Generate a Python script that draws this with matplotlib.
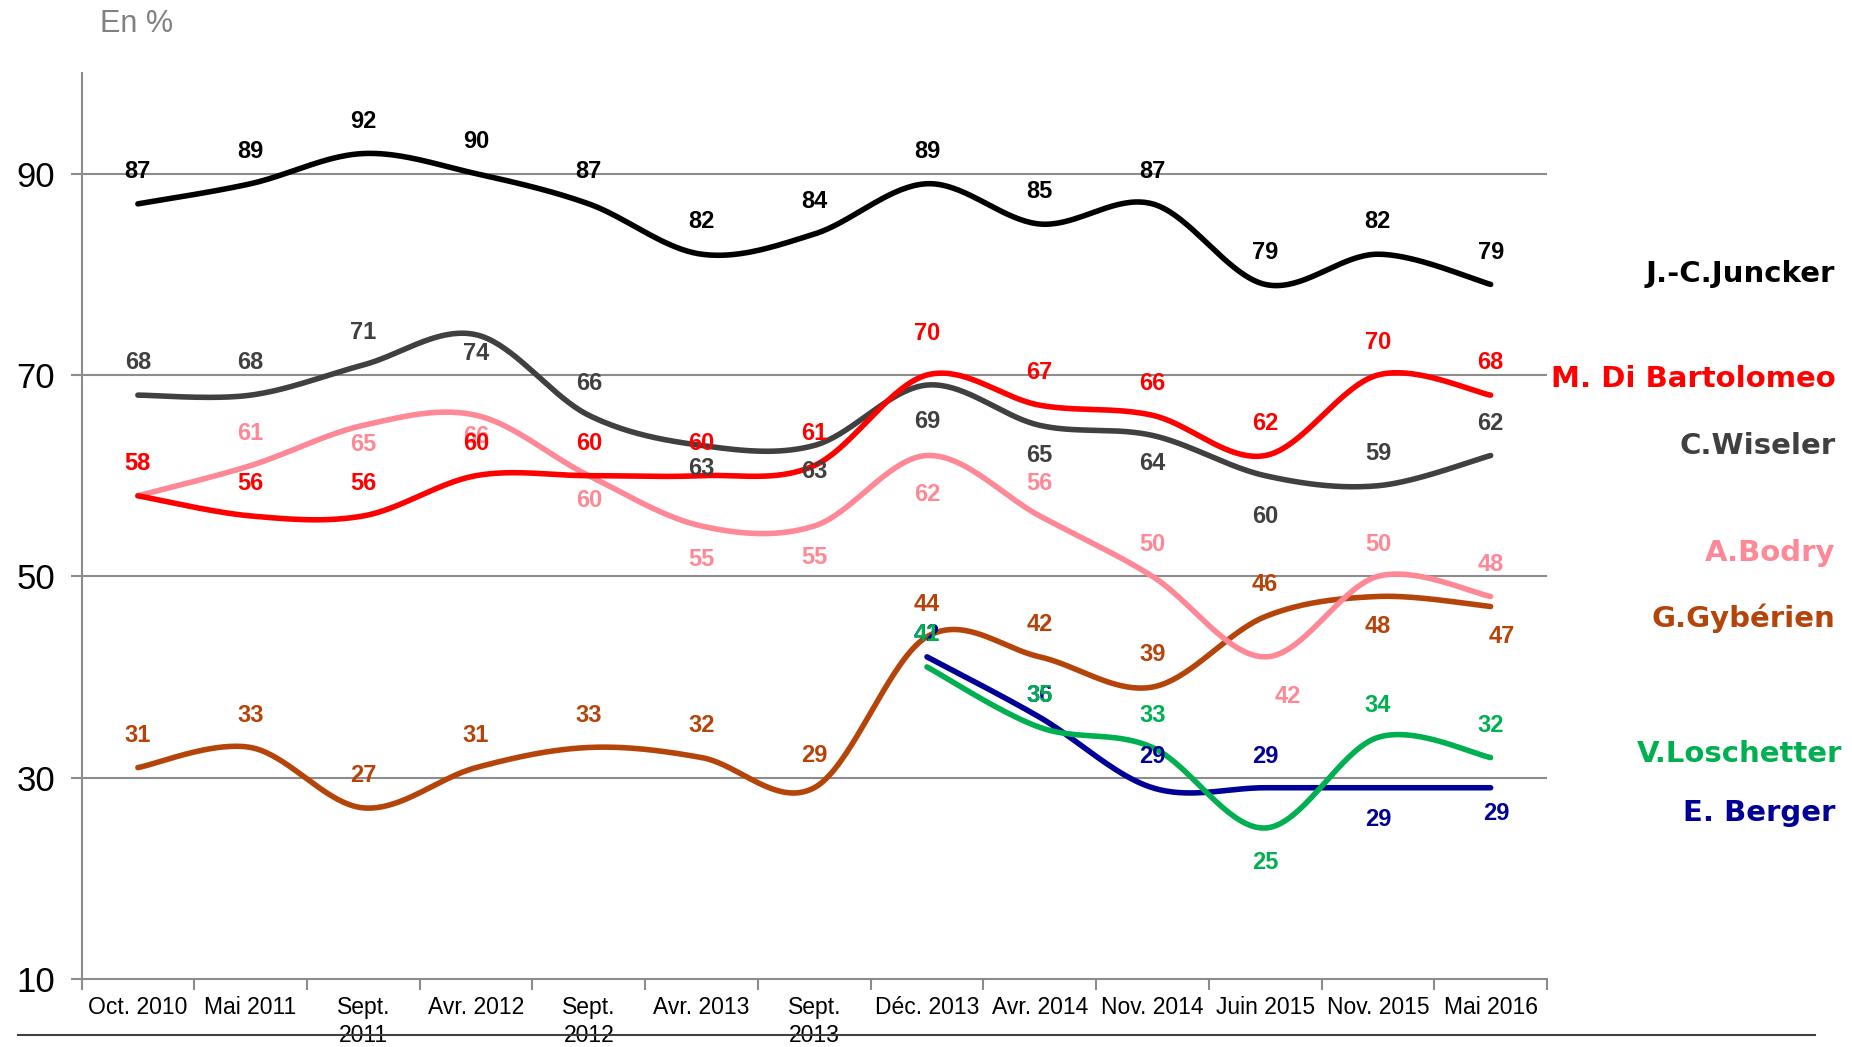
import numpy as np
import matplotlib
matplotlib.use("Agg")
import matplotlib.pyplot as plt
from matplotlib import transforms
from matplotlib.lines import Line2D

categories = ["Oct. 2010", "Mai 2011", "Sept.\n2011", "Avr. 2012", "Sept.\n2012",
              "Avr. 2013", "Sept.\n2013", "Déc. 2013", "Avr. 2014", "Nov. 2014",
              "Juin 2015", "Nov. 2015", "Mai 2016"]

juncker = [87, 89, 92, 90, 87, 82, 84, 89, 85, 87, 79, 82, 79]
di_bartolomeo = [58, 56, 56, 60, 60, 60, 61, 70, 67, 66, 62, 70, 68]
wiseler = [68, 68, 71, 74, 66, 63, 63, 69, 65, 64, 60, 59, 62]
bodry = [58, 61, 65, 66, 60, 55, 55, 62, 56, 50, 42, 50, 48]
gyberien = [31, 33, 27, 31, 33, 32, 29, 44, 42, 39, 46, 48, 47]
loschetter = [None] * 7 + [41, 35, 33, 25, 34, 32]
berger = [None] * 7 + [42, 36, 29, 29, 29, 29]

names = ["J.-C.Juncker", "M. Di Bartolomeo", "C.Wiseler", "A.Bodry",
         "G.Gybérien", "V.Loschetter", "E. Berger"]

# label offsets (data units) and small x shifts - layout only
off_juncker = [3.2] * 13
off_dibart = [3.2] * 7 + [4.1] + [3.2] * 5
off_wiseler = [3.2, 3.2, 3.2, -1.9, 3.2, -2.3, -2.6, -3.6, -3.0, -2.8, -4.1, 3.2, 3.2]
off_bodry = [3.2, 3.2, -1.9, -2.1, -2.5, -3.3, -3.1, -3.9, 3.2, 3.2, -3.9, 3.2, 3.2]
off_gyb = [3.2] * 11 + [-3.0, -3.0]
off_losch = [0] * 7 + [3.2, 3.2, 3.2, -3.4, 3.2, 3.2]
off_berger = [0] * 7 + [2.2, 2.2, 3.1, 3.1, -3.2, -2.6]
dx_bodry = {10: 0.2}
dx_gyb = {12: 0.1}
dx_berger = {12: 0.05}

name_y = [80.0, 69.6, 62.9, 52.3, 45.8, 32.4, 26.5]
name_x = [0.991, 0.991, 0.991, 0.991, 0.991, 0.9946, 0.991]

C_J = "#000000"
C_D = "#FF0000"
C_W = "#404040"
C_B = "#FF8896"
C_G = "#B5440A"
C_L = "#00B050"
C_E = "#000096"

SANS = ["Liberation Sans", "DejaVu Sans"]


def smooth(xs, ys, n=40):
    xs = np.asarray(xs, float)
    ys = np.asarray(ys, float)
    P = np.column_stack([xs, ys])
    m = len(P)
    out = []
    for i in range(m - 1):
        p0 = P[i - 1] if i > 0 else P[i]
        p1 = P[i]
        p2 = P[i + 1]
        p3 = P[i + 2] if i + 2 < m else P[i + 1]
        c1 = p1 + (p2 - p0) / 6.0
        c2 = p2 - (p3 - p1) / 6.0
        t = np.linspace(0, 1, n)[:, None]
        seg = ((1 - t) ** 3) * p1 + 3 * ((1 - t) ** 2) * t * c1 + 3 * (1 - t) * t ** 2 * c2 + t ** 3 * p2
        if i > 0:
            seg = seg[1:]
        out.append(seg)
    out = np.vstack(out)
    return out[:, 0], out[:, 1]


fig = plt.figure(figsize=(18.52, 10.47), dpi=100)
ax = fig.add_axes([81.5 / 1852, 1 - 979 / 1047, (1547 - 81.5) / 1852, (979 - 73) / 1047])
ax.set_xlim(-0.5, 12.5)
ax.set_ylim(10, 100)

for s in ["top", "right"]:
    ax.spines[s].set_visible(False)
for s in ["left", "bottom"]:
    ax.spines[s].set_color("#8C8C8C")
    ax.spines[s].set_linewidth(1.5)

ax.set_yticks([10, 30, 50, 70, 90])
ax.set_yticklabels(["10", "30", "50", "70", "90"], fontfamily=SANS, fontsize=25)
ax.tick_params(axis="y", length=8, width=1.5, color="#8C8C8C", pad=11)
for yv in [30, 50, 70, 90]:
    ax.axhline(yv, color="#8C8C8C", lw=1.5, zorder=0)

x = np.arange(len(categories))
ax.set_xticks(x)
ax.set_xticklabels(categories, fontfamily=SANS, fontsize=16.5, linespacing=1.3)
ax.tick_params(axis="x", length=0, pad=12)
ax.set_xticks(np.arange(-0.5, 13, 1), minor=True)
ax.tick_params(axis="x", which="minor", length=8, width=1.5, color="#8C8C8C")

series = [
    (gyberien, C_G, off_gyb, dx_gyb, 2),
    (berger, C_E, off_berger, dx_berger, 3),
    (loschetter, C_L, off_losch, {}, 4),
    (bodry, C_B, off_bodry, dx_bodry, 5),
    (wiseler, C_W, off_wiseler, {}, 6),
    (di_bartolomeo, C_D, off_dibart, {}, 7),
    (juncker, C_J, off_juncker, {}, 8),
]

for vals, col, offs, dxs, z in series:
    idx = [i for i, v in enumerate(vals) if v is not None]
    vv = [vals[i] for i in idx]
    sx, sy = smooth(idx, vv)
    ax.plot(sx, sy, color=col, lw=4.0, solid_capstyle="round", zorder=z)
    for i in idx:
        ax.text(i + dxs.get(i, 0), vals[i] + offs[i], str(vals[i]), color=col,
                fontfamily=SANS, fontweight="bold", fontsize=17,
                ha="center", va="center", zorder=10 + z)

tr = transforms.blended_transform_factory(fig.transFigure, ax.transData)
name_cols = [C_J, C_D, C_W, C_B, C_G, C_L, C_E]
for nm, ny, nx, col in zip(names, name_y, name_x, name_cols):
    ax.text(nx, ny, nm, transform=tr, color=col, fontfamily="DejaVu Sans",
            fontweight="bold", fontsize=21, ha="right", va="center", clip_on=False)

fig.text(100 / 1852, 1 - 23.6 / 1047, "En %", color="#808080",
         fontfamily=SANS, fontsize=22, ha="left", va="center")

fig.add_artist(Line2D([0.0097, 0.980], [0.0115, 0.0115], transform=fig.transFigure,
                      color="#404040", lw=1.5, zorder=20))

fig.savefig("out.png", dpi=100)
